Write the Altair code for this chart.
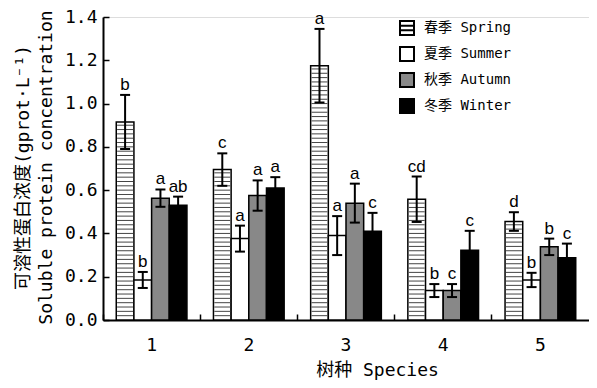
import altair as alt
import pandas as pd

species = ["1", "2", "3", "4", "5"]
seasons = ["春季 Spring", "夏季 Summer", "秋季 Autumn", "冬季 Winter"]

spring = [0.915, 0.695, 1.175, 0.558, 0.455]
spring_err = [0.125, 0.075, 0.17, 0.105, 0.043]
summer = [0.185, 0.376, 0.39, 0.136, 0.185]
summer_err = [0.037, 0.06, 0.09, 0.03, 0.033]
autumn = [0.563, 0.575, 0.54, 0.136, 0.338]
autumn_err = [0.04, 0.07, 0.09, 0.03, 0.038]
winter = [0.53, 0.61, 0.41, 0.322, 0.288]
winter_err = [0.04, 0.05, 0.085, 0.09, 0.065]

spring_lab = ["b", "c", "a", "cd", "d"]
summer_lab = ["b", "a", "a", "b", "b"]
autumn_lab = ["a", "a", "a", "c", "b"]
winter_lab = ["ab", "a", "c", "c", "c"]

y_ticks = [0.0, 0.2, 0.4, 0.6, 0.8, 1.0, 1.2, 1.4]
hatch_step = 0.02

FONT = "DejaVu Sans Mono, Noto Sans CJK SC"
W, H = 486, 303

series = [
    (seasons[0], spring, spring_err, spring_lab),
    (seasons[1], summer, summer_err, summer_lab),
    (seasons[2], autumn, autumn_err, autumn_lab),
    (seasons[3], winter, winter_err, winter_lab),
]
rows = []
for i, sp in enumerate(species):
    for name, vals, errs, labs in series:
        rows.append(dict(species=sp, season=name, value=vals[i],
                         lo=vals[i] - errs[i], hi=vals[i] + errs[i], letter=labs[i]))
df = pd.DataFrame(rows)

hrows = []
for i, sp in enumerate(species):
    k = 1
    while k * hatch_step < spring[i] - 0.006:
        hrows.append(dict(species=sp, season=seasons[0], hy=k * hatch_step))
        k += 1
hdf = pd.DataFrame(hrows)

xscale = alt.Scale(domain=species, paddingInner=0, paddingOuter=0)
xo = alt.XOffset("season:N", sort=seasons,
                 scale=alt.Scale(domain=seasons, paddingInner=0, paddingOuter=0.75))
yscale = alt.Scale(domain=[0, 1.4], nice=False, zero=True)

main_x = alt.Axis(title="树种 Species", labelAngle=0, ticks=False, domainColor="black",
                  domainWidth=2, labelFont=FONT, labelFontSize=18, labelColor="black",
                  labelPadding=16, titleFont=FONT, titleFontSize=18, titleFontWeight="normal",
                  titleColor="black", titleX=274, titleY=50, titleBaseline="middle",
                  titleAlign="center", grid=False)
main_y = alt.Axis(title=["可溶性蛋白浓度(gprot·L⁻¹)", "Soluble protein  concentration"],
                  values=y_ticks, format=".1f", ticks=False, domainColor="black",
                  domainWidth=2, labelFont=FONT, labelFontSize=18, labelColor="black",
                  labelPadding=6, titleFont=FONT, titleFontSize=18, titleFontWeight="normal",
                  titleColor="black", titleX=-80, titleY=150, titleBaseline="middle",
                  titleAlign="center", titleLineHeight=23, grid=False)
tick_x = alt.Axis(orient="top", offset=-H, labels=False, domain=False, ticks=True,
                  tickSize=6, tickWidth=1.5, tickColor="black", bandPosition=0,
                  title=None, grid=False)
tick_y = alt.Axis(orient="right", offset=-W, labels=False, domain=False, ticks=True,
                  tickSize=6, tickWidth=1.5, tickColor="black", values=y_ticks,
                  title=None, grid=False)

SPRING_PATH = "M-1,-1H1V1H-1Z M-1,-0.33H1 M-1,0.33H1"
legend = alt.Legend(title=None, orient="none", legendX=296, legendY=3, symbolSize=196,
                    symbolType=alt.ExprRef(
                        expr="datum.value === '春季 Spring' ? '" + SPRING_PATH + "' : 'square'"),
                    symbolStrokeColor="black", symbolStrokeWidth=2,
                    labelFont=FONT, labelFontSize=14, labelColor="black", labelOffset=9,
                    rowPadding=4, padding=0)

base = alt.Chart(df)

bars = base.mark_bar(stroke="black", strokeWidth=1.5).encode(
    x=alt.X("species:N", scale=xscale, axis=main_x),
    xOffset=xo,
    y=alt.Y("value:Q", scale=yscale, axis=main_y),
    fill=alt.Fill("season:N", sort=seasons,
                  scale=alt.Scale(domain=seasons, range=["white", "white", "#888888", "black"]),
                  legend=legend),
)

hatch = alt.Chart(hdf).mark_tick(orient="horizontal", size=16, thickness=1, color="#444444",
                                 opacity=1).encode(
    x=alt.X("species:N", scale=xscale, axis=None),
    xOffset=xo,
    y=alt.Y("hy:Q", scale=yscale, axis=None),
)

err = base.mark_rule(color="black", strokeWidth=2).encode(
    x=alt.X("species:N", scale=xscale, axis=tick_x),
    xOffset=xo,
    y=alt.Y("lo:Q", scale=yscale, axis=tick_y),
    y2="hi:Q",
)

cap_lo = base.mark_tick(orient="horizontal", size=10, thickness=2, color="black",
                        opacity=1).encode(
    x=alt.X("species:N", scale=xscale, axis=None),
    xOffset=xo,
    y=alt.Y("lo:Q", scale=yscale, axis=None),
)
cap_hi = base.mark_tick(orient="horizontal", size=10, thickness=2, color="black",
                        opacity=1).encode(
    x=alt.X("species:N", scale=xscale, axis=None),
    xOffset=xo,
    y=alt.Y("hi:Q", scale=yscale, axis=None),
)

letters = base.mark_text(font="Liberation Sans", fontSize=17, baseline="alphabetic",
                         dy=-5, color="black").encode(
    x=alt.X("species:N", scale=xscale, axis=None),
    xOffset=xo,
    y=alt.Y("hi:Q", scale=yscale, axis=None),
    text="letter:N",
)

chart = alt.layer(bars, hatch, err, cap_lo, cap_hi, letters).resolve_axis(
    x="independent", y="independent"
).properties(
    width=W, height=H,
    autosize=alt.AutoSizeParams(type="none"),
    padding={"left": 95, "top": 9, "right": 0, "bottom": 60},
).configure_view(stroke=None).configure(background="white")

chart.save("out.html", embed_options={"renderer": "svg", "actions": False})
